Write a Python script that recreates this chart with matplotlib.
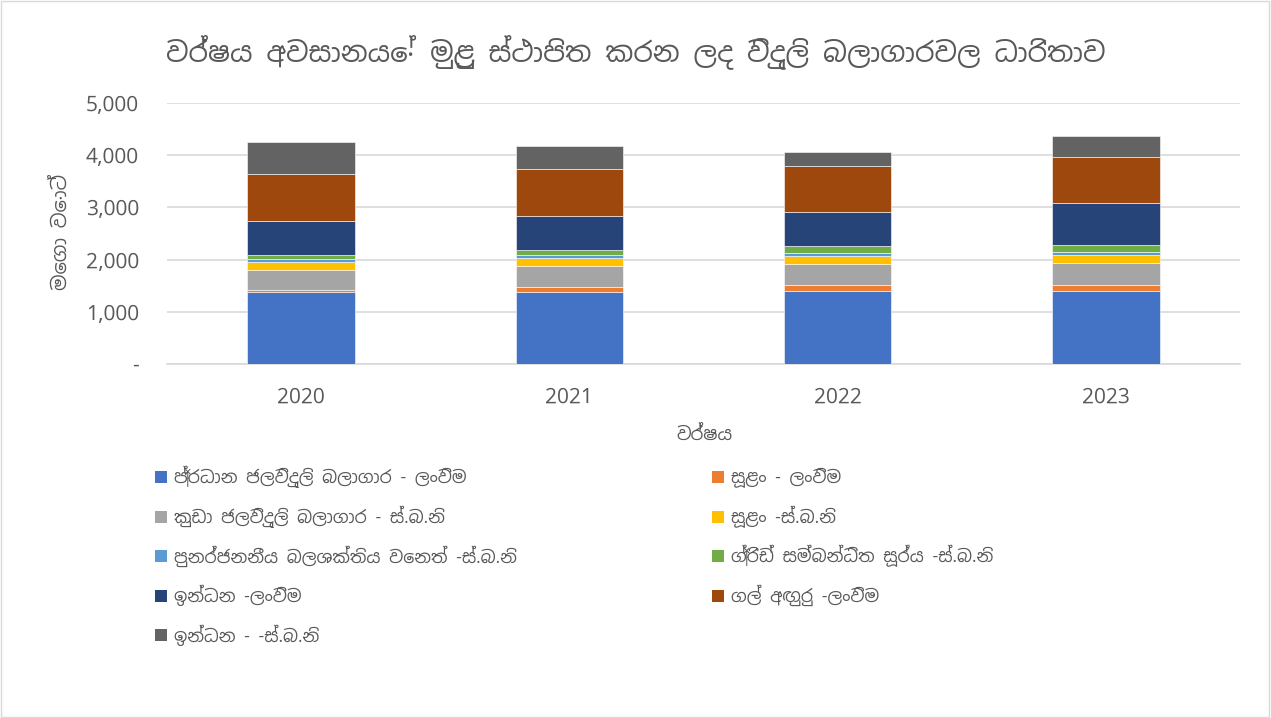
import matplotlib
matplotlib.use("Agg")
import matplotlib.pyplot as plt
from matplotlib import font_manager
from matplotlib.patches import Rectangle
import numpy as np

years = ["2020", "2021", "2022", "2023"]

series_names = [
    "ප්‍රධාන ජලවිදුලි බලාගාර - ලංවිම",
    "සූළං - ලංවිම",
    "කුඩා ජලවිදුලි බලාගාර - ස්.බ.නි",
    "සූළං -ස්.බ.නි",
    "පුනර්ජනනීය බලශක්තිය වෙනත් -ස්.බ.නි",
    "ග්‍රිඩ් සම්බන්ධිත සූර්ය -ස්.බ.නි",
    "ඉන්ධන -ලංවිම",
    "ගල් අඟුරු -ලංවිම",
    "ඉන්ධන - -ස්.බ.නි",
]

hydro_ceb = [1374, 1374, 1404, 1404]
wind_ceb = [38, 107, 104, 104]
small_hydro = [395, 402, 413, 421]
wind_spp = [153, 154, 148, 159]
other_re = [51, 45, 52, 58]
solar = [77, 108, 134, 134]
oil_ceb = [646, 645, 651, 799]
coal_ceb = [898, 901, 887, 892]
oil_ipp = [615, 434, 268, 391]

values = [hydro_ceb, wind_ceb, small_hydro, wind_spp, other_re,
          solar, oil_ceb, coal_ceb, oil_ipp]
colors = ["#4472C4", "#ED7D31", "#A5A5A5", "#FFC000", "#5B9BD5",
          "#70AD47", "#264478", "#9E480E", "#636363"]

title = "වර්ෂය අවසානයේ මුළු ස්ථාපිත කරන ලද විදුලි බලාගාරවල ධාරිතාව"
ylabel = "මෙගා වොට්"
xlabel = "වර්ෂය"

# use a Sinhala-capable font if the system happens to have one
fams = []
for f in font_manager.fontManager.ttflist:
    if "sinhala" in f.name.lower() or "iskoola" in f.name.lower():
        if f.name not in fams:
            fams.append(f.name)
plt.rcParams["font.family"] = fams + ["Noto Sans", "DejaVu Sans"]

text_color = "#595959"
W, H = 1271, 718
fig = plt.figure(figsize=(W / 100, H / 100), dpi=100)
fig.patches.append(Rectangle((0.0008, 0.001), 0.9975, 0.997, transform=fig.transFigure,
                             fill=False, edgecolor="#D9D9D9", linewidth=1))

ax = fig.add_axes([167 / W, 1 - 364 / H, (1240 - 167) / W, (364 - 103) / H])
x = np.arange(len(years))
bottom = np.zeros(len(years))
for name, vals, c in zip(series_names, values, colors):
    ax.bar(x, vals, width=0.4, bottom=bottom, color=c, label=name,
           edgecolor="white", linewidth=0.4, zorder=3)
    bottom += np.array(vals)

ax.set_xlim(-0.5, 3.5)
ax.set_ylim(0, 5000)
ax.set_yticks(range(0, 5001, 1000))
ax.set_yticklabels(["-" if v == 0 else f"{v:,}" for v in range(0, 5001, 1000)])
ax.set_xticks(x)
ax.set_xticklabels(years)
ax.yaxis.grid(True, color="#D9D9D9", linewidth=1.2, zorder=0)
for s in ["top", "right", "left"]:
    ax.spines[s].set_visible(False)
ax.spines["bottom"].set_color("#D9D9D9")
ax.spines["bottom"].set_linewidth(1.2)
ax.tick_params(axis="both", length=0, labelsize=15, colors=text_color)
ax.tick_params(axis="y", pad=20)
ax.tick_params(axis="x", pad=16)

fig.text(0.5, 1 - 52 / H, title, ha="center", va="center", fontsize=20, color=text_color)
fig.text(62 / W, 1 - 232 / H, ylabel, ha="center", va="center", rotation=90,
         fontsize=14, color=text_color)
fig.text(704 / W, 1 - 435 / H, xlabel, ha="center", va="center", fontsize=13, color=text_color)

# legend, two columns filled row by row
for i, (name, c) in enumerate(zip(series_names, colors)):
    row, col = divmod(i, 2)
    lx = 155 if col == 0 else 712
    ly = 477 + row * 39.5
    fig.patches.append(Rectangle((lx / W, 1 - (ly + 6) / H), 12 / W, 12 / H,
                                 transform=fig.transFigure, facecolor=c, edgecolor="none"))
    fig.text((lx + 19) / W, 1 - ly / H, name, ha="left", va="center",
             fontsize=12.5, color=text_color)

fig.savefig("out.png", dpi=100)
